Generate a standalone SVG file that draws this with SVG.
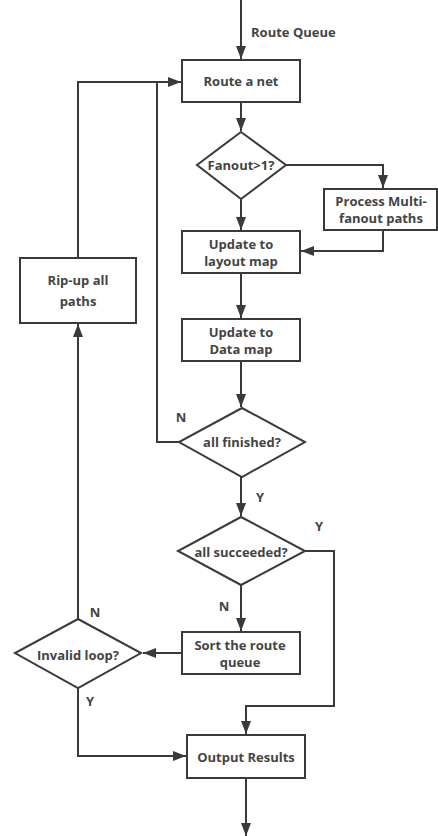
<svg xmlns="http://www.w3.org/2000/svg" width="438" height="836" viewBox="0 0 438 836">
<style>
.box{fill:#fff;stroke:#3a3a3a;stroke-width:2}
.c{fill:none;stroke:#3a3a3a;stroke-width:2}
text{font-family:"Open Sans","Noto Sans","DejaVu Sans",sans-serif;font-weight:bold;font-size:13px;fill:#444}
.m{text-anchor:middle}
</style>
<defs>
<marker id="ah" markerUnits="userSpaceOnUse" markerWidth="13" markerHeight="10" refX="13" refY="5" orient="auto">
<path d="M0,0 L13,5 L0,10 Z" fill="#3a3a3a"/>
</marker>
</defs>
<rect width="438" height="836" fill="#fff"/>
<g id="connectors">
<path class="c" d="M241,0 V59" marker-end="url(#ah)"/>
<path class="c" d="M241,102 V131" marker-end="url(#ah)"/>
<path class="c" d="M286,165 H383 V188" marker-end="url(#ah)"/>
<path class="c" d="M241,199 V230" marker-end="url(#ah)"/>
<path class="c" d="M383,230 V251 H301" marker-end="url(#ah)"/>
<path class="c" d="M241,273 V318" marker-end="url(#ah)"/>
<path class="c" d="M241,361 V407" marker-end="url(#ah)"/>
<path class="c" d="M179,442 H157 V82 H181" marker-end="url(#ah)"/>
<path class="c" d="M78,258 V82 H157"/>
<path class="c" d="M241,477 V516" marker-end="url(#ah)"/>
<path class="c" d="M305,551 H334 V706 H246 V734" marker-end="url(#ah)"/>
<path class="c" d="M241,585 V631" marker-end="url(#ah)"/>
<path class="c" d="M182,653 H143" marker-end="url(#ah)"/>
<path class="c" d="M78,619 V324" marker-end="url(#ah)"/>
<path class="c" d="M78,688 V756 H186" marker-end="url(#ah)"/>
<path class="c" d="M246,778 V836" marker-end="url(#ah)"/>
</g>
<g id="labels">
<text x="251" y="37">Route Queue</text>
<text x="181" y="422" class="m">N</text>
<text x="260" y="502" class="m">Y</text>
<text x="319" y="531" class="m">Y</text>
<text x="224" y="611" class="m">N</text>
<text x="95" y="617" class="m">N</text>
<text x="90" y="706" class="m">Y</text>
</g>
<g id="route">
<rect class="box" x="182" y="60" width="118" height="42"/>
<text x="241" y="86" class="m">Route a net</text>
</g>
<g id="fanout">
<path class="box" d="M241,132 L286,165 L241,199 L197,165 Z"/>
<text x="241" y="170" class="m">Fanout&gt;1?</text>
</g>
<g id="process">
<rect class="box" x="324" y="189" width="113" height="41"/>
<text x="381" y="206" class="m">Process Multi-</text>
<text x="381" y="223" class="m">fanout paths</text>
</g>
<g id="layout">
<rect class="box" x="182" y="231" width="118" height="42"/>
<text x="241" y="249" class="m">Update to</text>
<text x="241" y="266" class="m">layout map</text>
</g>
<g id="datamap">
<rect class="box" x="182" y="319" width="118" height="42"/>
<text x="241" y="337" class="m">Update to</text>
<text x="241" y="354" class="m">Data map</text>
</g>
<g id="finished">
<path class="box" d="M242,408 L305,442 L242,477 L179,442 Z"/>
<text x="242" y="447" class="m">all finished?</text>
</g>
<g id="ripup">
<rect class="box" x="20" y="258" width="116" height="65"/>
<text x="78" y="285" class="m">Rip-up all</text>
<text x="78" y="306" class="m">paths</text>
</g>
<g id="succeeded">
<path class="box" d="M241,517 L305,551 L241,585 L178,551 Z"/>
<text x="241" y="557" class="m">all succeeded?</text>
</g>
<g id="sort">
<rect class="box" x="182" y="632" width="118" height="42"/>
<text x="240" y="650" class="m">Sort the route</text>
<text x="240" y="667" class="m">queue</text>
</g>
<g id="invalid">
<path class="box" d="M78,619 L141,653 L78,688 L15,653 Z"/>
<text x="78" y="660" class="m">Invalid loop?</text>
</g>
<g id="output">
<rect class="box" x="187" y="735" width="118" height="43"/>
<text x="246" y="762" class="m">Output Results</text>
</g>
</svg>
